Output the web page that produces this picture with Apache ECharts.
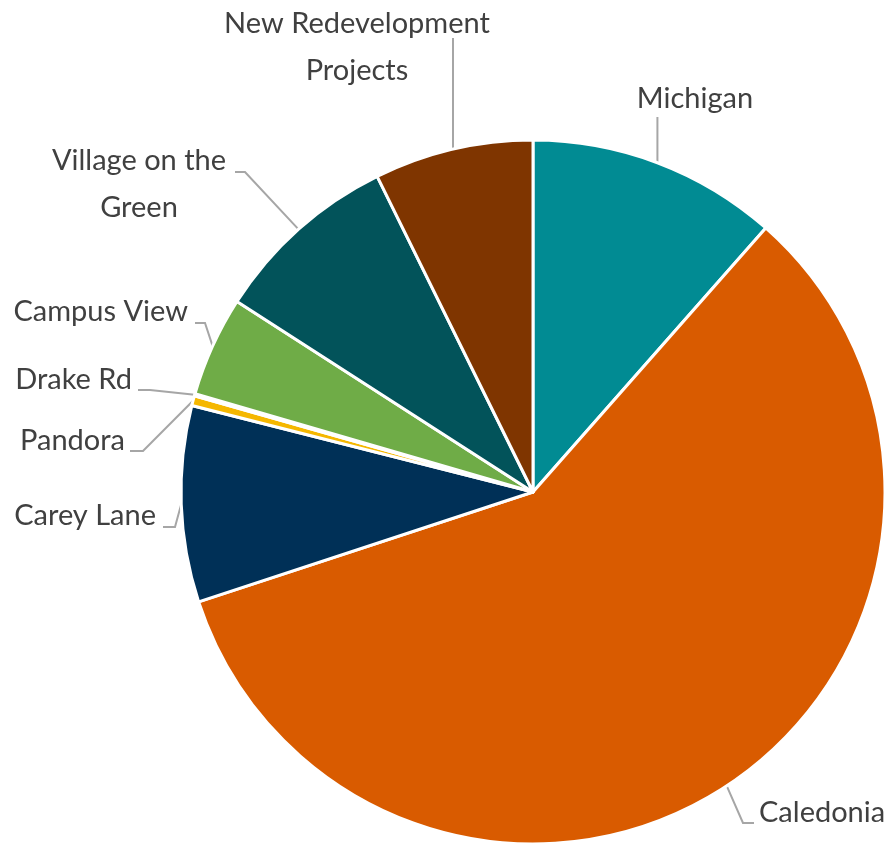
<!DOCTYPE html>
<html>
<head>
<meta charset="utf-8">
<script src="https://cdn.jsdelivr.net/npm/echarts@6/dist/echarts.min.js"></script>
<style>
  html, body { margin: 0; padding: 0; background: #fff; }
  #pie-chart { width: 887px; height: 844px; }
</style>
</head>
<body>
<div id="pie-chart"></div>
<script>
// slice names and shares (%), clockwise from 12 o'clock
const names = ['Michigan', 'Caledonia', 'Carey Lane', 'Pandora', 'Drake Rd', 'Campus View', 'Village on the Green', 'New Redevelopment Projects'];
const values = [11.5, 58.45, 9.0, 0.45, 0.1, 4.6, 8.6, 7.3];
const labelTexts = ['Michigan', 'Caledonia', 'Carey Lane', 'Pandora', 'Drake Rd', 'Campus View', 'Village on the\nGreen', 'New Redevelopment\nProjects'];
const colors = ['#018B93', '#D95B00', '#003057', '#F5B700', '#BFBFBF', '#6FAC47', '#02535A', '#7F3500'];

// where each label sits and how its leader line bends (null x = keep anchor x)
const labelSpots = [
    { x: 695, y: 99, align: 'center', bend: [null, 117], end: [null, 117] },
    { x: 759, y: 813, align: 'left', bend: [743, 823], end: [754, 823] },
    { x: 156, y: 516, align: 'right', bend: [175, 527], end: [163, 527] },
    { x: 125, y: 441, align: 'right', bend: [143, 451], end: [130, 451] },
    { x: 132, y: 380, align: 'right', bend: [150, 390], end: [138, 390] },
    { x: 188, y: 312, align: 'right', bend: [205, 323], end: [195, 323] },
    { x: 139, y: 184, align: 'center', bend: [245, 172], end: [235, 172] },
    { x: 357, y: 47, align: 'center', bend: [null, 38], end: [null, 38] }
];

const pieData = names.map((n, i) => ({
    name: n,
    value: values[i],
    itemStyle: { color: colors[i] }
}));

const chart = echarts.init(document.getElementById('pie-chart'), null, { renderer: 'canvas' });

chart.setOption({
    animation: false,
    backgroundColor: '#ffffff',
    series: [{
        type: 'pie',
        center: [533, 492],
        radius: 352,
        startAngle: 90,
        clockwise: true,
        avoidLabelOverlap: false,
        data: pieData,
        itemStyle: { borderColor: '#ffffff', borderWidth: 3 },
        label: {
            show: true,
            position: 'outside',
            formatter: p => labelTexts[p.dataIndex],
            fontFamily: 'Lato',
            fontSize: 29,
            lineHeight: 47,
            color: '#404040'
        },
        labelLine: {
            show: true,
            length: 20,
            length2: 10,
            lineStyle: { color: '#A6A6A6', width: 2 }
        },
        labelLayout: params => {
            const s = labelSpots[params.dataIndex];
            const a = params.labelLinePoints ? params.labelLinePoints[0] : [0, 0];
            const bend = [s.bend[0] === null ? a[0] : s.bend[0], s.bend[1]];
            const end = [s.end[0] === null ? a[0] : s.end[0], s.end[1]];
            return {
                x: s.x,
                y: s.y,
                align: s.align,
                verticalAlign: 'middle',
                labelLinePoints: [a, bend, end]
            };
        }
    }]
});
</script>
</body>
</html>
